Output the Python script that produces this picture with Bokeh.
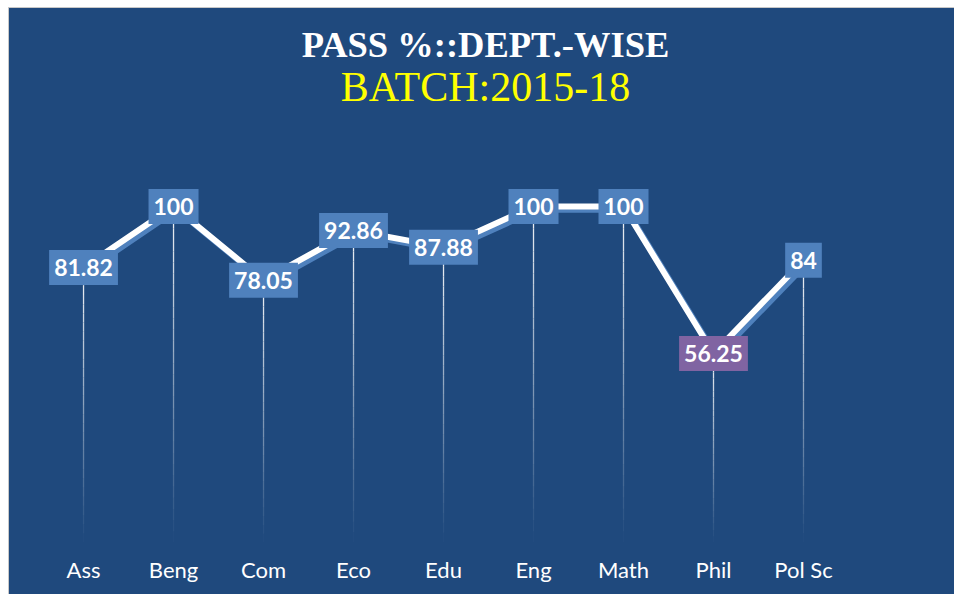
import numpy as np
from bokeh.plotting import figure
from bokeh.models import ColumnDataSource, Label, Range1d, FixedTicker
from bokeh.transform import dodge
from bokeh.embed import file_html
from bokeh.resources import INLINE

# ---- data ----
departments = ["Ass", "Beng", "Com", "Eco", "Edu", "Eng", "Math", "Phil", "Pol Sc"]
pass_pct = [81.82, 100, 78.05, 92.86, 87.88, 100, 100, 56.25, 84]
title_main = "PASS %::DEPT.-WISE"
title_batch = "BATCH:2015-18"

BG = "#1F497D"
BOX = "#4F81BD"
BOX_LOW = "#8064A2"

xs = list(range(len(departments)))
src = ColumnDataSource(dict(x=xs, y=pass_pct))

x_rng = Range1d(-0.756, 9.689)
p = figure(width=946, height=587,
           x_range=x_rng, y_range=Range1d(0, 158.9),
           output_backend="svg", toolbar_location=None,
           y_axis_location=None,
           min_border_left=6, min_border_right=0,
           min_border_top=0, min_border_bottom=53,
           background_fill_color=None, border_fill_color=None)
p.outline_line_color = None
p.grid.visible = False
p.styles = {"margin-left": "8px", "margin-top": "7px",
            "background-color": BG,
            "border-left": "1px solid #c8c8c8", "border-top": "1px solid #c8c8c8"}

# titles, placed above the data
x_mid = (x_rng.start + x_rng.end) / 2
p.add_layout(Label(x=x_mid, y=148.2, text=title_main, text_align="center",
                   text_baseline="alphabetic", text_color="white",
                   text_font="Liberation Serif", text_font_style="bold",
                   text_font_size="36.5px"))
p.add_layout(Label(x=x_mid, y=135.6, text=title_batch, text_align="center",
                   text_baseline="alphabetic", text_color="#FFFF00",
                   text_font="Liberation Serif", text_font_style="normal",
                   text_font_size="42px"))

# x axis
ax = p.xaxis[0]
ax.ticker = FixedTicker(ticks=xs)
ax.major_label_overrides = {i: d for i, d in zip(xs, departments)}
ax.axis_line_color = None
ax.major_tick_line_color = None
ax.minor_tick_line_color = None
ax.major_label_text_color = "white"
ax.major_label_text_font = "Lato"
ax.major_label_text_font_size = "22px"
ax.major_label_standoff = 7

# fading drop lines
n = 30
for k in range(n):
    f0, f1 = k / n, (k + 1) / n
    p.segment(x0=xs, x1=xs,
              y0=[v * f0 for v in pass_pct], y1=[v * f1 for v in pass_pct],
              line_color="white", line_width=1.3,
              line_alpha=0.95 * (f0 + f1) / 2)

# shadow + main line
p.line(x=dodge("x", 0.035), y=dodge("y", -1.0), source=src,
       line_color=BOX, line_width=6, line_join="round")
p.line(x="x", y="y", source=src, line_color="white", line_width=6,
       line_join="round")

# data labels
low = min(pass_pct)
for x, v in zip(xs, pass_pct):
    p.add_layout(Label(x=x, y=v, text=f"{v:g}", text_align="center",
                       text_baseline="middle", text_color="white",
                       text_font="Lato", text_font_style="bold",
                       text_font_size="23px",
                       background_fill_color=BOX_LOW if v == low else BOX,
                       padding=(5, 9)))

open("out.html", "w").write(file_html(p, INLINE))
